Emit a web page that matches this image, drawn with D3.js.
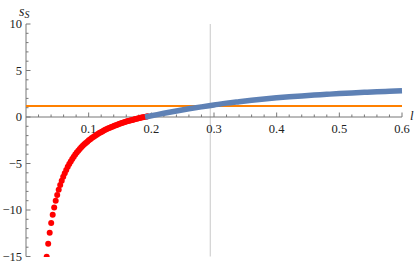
<!DOCTYPE html>
<html lang="en">
<head>
<meta charset="UTF-8" />
<title>s_S vs l</title>
<script src="https://d3js.org/d3.v7.min.js"></script>
<style>
  body { margin: 0; padding: 0; background: #fff; }
  svg { display: block; }
  svg text { font-family: "Liberation Serif", "DejaVu Serif", "Times New Roman", serif; fill: #222; }
</style>
</head>
<body>
<svg width="415" height="265"></svg>
<script>
// red dots (l, s_S)
const redL = [0.0330,0.0354,0.0378,0.0402,0.0426,0.0450,0.0474,0.0498,0.0522,0.0546,
  0.0570,0.0594,0.0618,0.0642,0.0666,0.0690,0.0714,0.0738,0.0762,0.0786,
  0.0810,0.0834,0.0858,0.0882,0.0906,0.0930,0.0954,0.0978,0.1002,0.1026,
  0.1050,0.1074,0.1098,0.1122,0.1146,0.1170,0.1194,0.1218,0.1242,0.1266,
  0.1290,0.1314,0.1338,0.1362,0.1386,0.1410,0.1434,0.1458,0.1482,0.1506,
  0.1530,0.1554,0.1578,0.1602,0.1626,0.1650,0.1674,0.1698,0.1722,0.1746,
  0.1770,0.1794,0.1818,0.1842,0.1866,0.1890,0.1914,0.1938];
const redS = [-15.04,-13.64,-12.44,-11.41,-10.51,-9.72,-9.01,-8.38,-7.82,-7.31,
  -6.85,-6.43,-6.04,-5.69,-5.36,-5.06,-4.78,-4.51,-4.27,-4.04,
  -3.83,-3.63,-3.44,-3.26,-3.10,-2.94,-2.79,-2.65,-2.51,-2.38,
  -2.26,-2.14,-2.03,-1.93,-1.82,-1.73,-1.63,-1.55,-1.46,-1.38,
  -1.30,-1.22,-1.15,-1.08,-1.01,-0.94,-0.88,-0.82,-0.76,-0.70,
  -0.65,-0.59,-0.54,-0.49,-0.44,-0.40,-0.35,-0.31,-0.26,-0.22,
  -0.18,-0.14,-0.10,-0.06,-0.03,0.01,0.04,0.08];

// blue curve
const blueL = [0.19,0.20,0.22,0.24,0.26,0.28,0.30,0.32,0.34,0.36,0.38,0.40,
  0.42,0.44,0.46,0.48,0.50,0.52,0.54,0.56,0.58,0.60];
const blueS = [0.00,0.13,0.40,0.65,0.88,1.09,1.29,1.49,1.65,1.80,1.94,2.06,
  2.17,2.27,2.36,2.44,2.52,2.59,2.65,2.71,2.76,2.81];

// orange constant and vertical marker
const orangeS = 1.18;
const markerL = 0.294;

const xTicks = [0.1,0.2,0.3,0.4,0.5,0.6];
const yTicks = [-15,-10,-5,0,5,10];

const serif = "'Liberation Serif', 'DejaVu Serif', serif";
const svg = d3.select("svg");
const x = d3.scaleLinear().domain([0, 0.6]).range([26, 402]);
const y = d3.scaleLinear().domain([-15, 10]).range([256.5, 24]);

svg.append("defs").append("clipPath").attr("id", "clip")
  .append("rect").attr("x", x(0)).attr("y", y(10)).attr("width", x(0.6) - x(0) + 4).attr("height", y(-15) - y(10) + 0.5);

// vertical marker
svg.append("line")
  .attr("x1", x(markerL)).attr("x2", x(markerL))
  .attr("y1", y(10)).attr("y2", y(-15))
  .attr("stroke", "#c8c8c8").attr("stroke-width", 1);

// x axis
const axisColor = "#777";
const xMinor = d3.range(1, 30).map(i => i * 0.02).filter(v => Math.abs(v * 10 - Math.round(v * 10)) > 1e-6);
const xAxis = svg.append("g").attr("transform", `translate(0,${y(0)})`);
xAxis.append("line").attr("x1", x(0)).attr("x2", x(0.6)).attr("stroke", axisColor);
xAxis.selectAll(".mn").data(xMinor).enter().append("line")
  .attr("x1", d => x(d)).attr("x2", d => x(d)).attr("y1", 0).attr("y2", -2.5).attr("stroke", axisColor);
const xt = xAxis.selectAll(".tick").data(xTicks).enter().append("g").attr("class", "tick")
  .attr("transform", d => `translate(${x(d)},0)`);
xt.append("line").attr("y1", 0).attr("y2", -4.5).attr("stroke", axisColor);
xt.append("text").attr("y", 16).attr("text-anchor", "middle")
  .attr("font-family", serif).attr("font-size", 12.5).text(d => d3.format(".1f")(d));

// y axis
const yMinor = d3.range(-15, 11).filter(v => v % 5 !== 0);
const yAxis = svg.append("g").attr("transform", `translate(${x(0)},0)`);
yAxis.append("line").attr("y1", y(10)).attr("y2", y(-15)).attr("stroke", axisColor);
yAxis.selectAll(".mn").data(yMinor).enter().append("line")
  .attr("y1", d => y(d)).attr("y2", d => y(d)).attr("x1", 0).attr("x2", 2.5).attr("stroke", axisColor);
const yt = yAxis.selectAll(".tick").data(yTicks).enter().append("g").attr("class", "tick")
  .attr("transform", d => `translate(0,${y(d)})`);
yt.append("line").attr("x1", 0).attr("x2", 4.5).attr("stroke", axisColor);
yt.append("text").attr("x", -4).attr("dy", "0.35em").attr("text-anchor", "end")
  .attr("font-family", serif).attr("font-size", 12.5)
  .text(d => d < 0 ? "\u2212" + Math.abs(d) : d);

// axis labels
const sl = svg.append("text").attr("x", 19).attr("y", 16)
  .attr("font-family", serif).attr("font-style", "italic").attr("font-size", 14);
sl.append("tspan").text("s");
sl.append("tspan").attr("font-size", 10).attr("dy", 2).text("S");
svg.append("text").attr("x", 410).attr("y", 120)
  .attr("font-family", serif).attr("font-style", "italic").attr("font-size", 13).text("l");

const plot = svg.append("g").attr("clip-path", "url(#clip)");

// orange line
plot.append("line")
  .attr("x1", x(0)).attr("x2", x(0.6))
  .attr("y1", y(orangeS)).attr("y2", y(orangeS))
  .attr("stroke", "#ff8000").attr("stroke-width", 2);

// red dots
plot.selectAll(".rd").data(redL).enter().append("circle")
  .attr("cx", d => x(d)).attr("cy", (d, i) => y(redS[i])).attr("r", 3)
  .attr("fill", "#ff0000");

// blue curve
const blue = blueL.map((d, i) => [d, blueS[i]]);
plot.append("path").datum(blue)
  .attr("d", d3.line().x(d => x(d[0])).y(d => y(d[1])).curve(d3.curveMonotoneX))
  .attr("fill", "none").attr("stroke", "#5e81b5").attr("stroke-width", 5.5);
</script>
</body>
</html>
